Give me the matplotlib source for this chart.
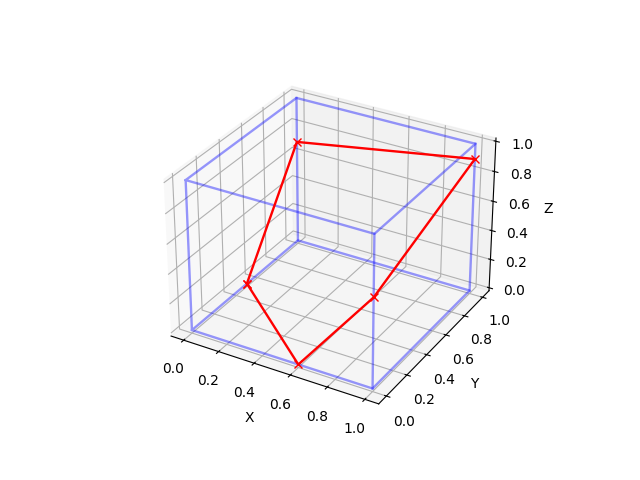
import numpy as np
import matplotlib
matplotlib.use('Agg')
import matplotlib.pyplot as plt
from mpl_toolkits.mplot3d import Axes3D

# cube edges, drawn as one path per face pair
cube_x = [0,1,1,0,0,0,1,1,0,0]
cube_y = [0,0,1,1,0,0,0,1,1,0]
cube_z = [0,0,0,0,0,1,1,1,1,1]
post_x = [1,1,0]
post_y = [0,1,1]

path_x = [0,0.6,1,1,0,0]
path_y = [0.5,0,0,1,1,0.5]
path_z = [0,0,0.6,0.9,0.7,0]

fig = plt.figure()
ax = fig.add_subplot(111,projection='3d')
ax.plot(cube_x,cube_y,cube_z,color='b',alpha=0.4,lw=1.7)
for px,py in zip(post_x,post_y):
    ax.plot([px,px],[py,py],[0,1],color='b',alpha=0.4,lw=1.7)
ax.plot(path_x,path_y,path_z,color='r',marker='x',lw=1.7)
ax.set_xlabel('X')
ax.set_ylabel('Y')
ax.set_zlabel('Z')
fig.savefig('out.png',dpi=100)
